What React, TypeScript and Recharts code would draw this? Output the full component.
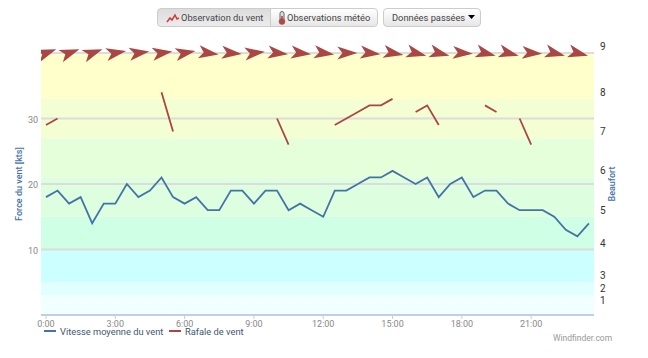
import { ComposedChart, Line, XAxis, YAxis, ReferenceArea, ReferenceLine, Legend, Label } from 'recharts';

document.body.style.margin = '0';

// half-hourly observations, 0:00 to 23:30
const HOURS = [
  0, 0.5, 1, 1.5, 2, 2.5, 3, 3.5, 4, 4.5, 5, 5.5, 6, 6.5, 7, 7.5, 8, 8.5, 9, 9.5, 10, 10.5, 11, 11.5,
  12, 12.5, 13, 13.5, 14, 14.5, 15, 15.5, 16, 16.5, 17, 17.5, 18, 18.5, 19, 19.5, 20, 20.5, 21, 21.5, 22, 22.5, 23, 23.5,
];
const MEAN_WIND = [
  18, 19, 17, 18, 14, 17, 17, 20, 18, 19, 21, 18, 17, 18, 16, 16, 19, 19, 17, 19, 19, 16, 17, 16,
  15, 19, 19, 20, 21, 21, 22, 21, 20, 21, 18, 20, 21, 18, 19, 19, 17, 16, 16, 16, 15, 13, 12, 14,
];
const GUSTS = [
  29, 30, null, null, null, null, null, null, null, null, 34, 28, null, null, null, null, null, null, null, null, 30, 26, null, null,
  null, 29, 30, 31, 32, 32, 33, null, 31, 32, 29, null, null, null, 32, 31, null, 30, 26, null, null, null, null, null,
];
// wind direction arrows, one per hour (degrees off pointing right)
const ARROW_ANGLES = [
  -20, -20, -20, -10, -8, -8, -10, 8, 5, -6, 6, 6, 8, 0, 6, 10, 14, 14, 4, 14, 14, 4, 14, 14,
];
const ARROW_LEVEL = 40;

const X_TICKS = [0, 3, 6, 9, 12, 15, 18, 21];
const Y_TICKS = [10, 20, 30];
const GRID_LINES = [10, 20, 30, 40];

// Beaufort scale: upper edge of each band in knots
const BEAUFORT_EDGES = [1.2, 3, 5, 10, 15, 21, 27, 33, 40];
const BEAUFORT_LABELS = ['1', '2', '3', '4', '5', '6', '7', '8', '9'];
const BAND_STARTS = [0, 3, 5, 10, 15, 21, 27, 33];
const BAND_ENDS = [3, 5, 10, 15, 21, 27, 33, 40];
const BAND_COLORS = ['#f0ffff', '#e0ffff', '#ccffff', '#cfffe5', '#ddffe0', '#e6ffdb', '#f3ffd3', '#ffffcc'];

const BLUE = '#4572a7';
const RED = '#aa4643';

const chartData = HOURS.map((h, i) => ({
  hour: h,
  mean: MEAN_WIND[i],
  gust: GUSTS[i],
  angle: i % 2 === 0 ? ARROW_ANGLES[i / 2] : null,
  arrow: i % 2 === 0 ? ARROW_LEVEL : null,
}));

function ArrowDot(props: any) {
  const { cx, cy, payload } = props;
  if (payload.arrow == null || cy == null) return <g key={props.key} />;
  return (
    <path
      key={props.key}
      d="M11,0 L-9,-6.5 L-4,0 L-9,6.5 Z"
      fill={RED}
      transform={`translate(${cx},${cy}) rotate(${payload.angle})`}
    />
  );
}

function BeaufortTick(props: any) {
  const { x, y, index } = props;
  return (
    <text x={x - 7} y={y - 6} dy={3} fontSize={10} fill="#333" fontFamily="Roboto">
      {BEAUFORT_LABELS[index]}
    </text>
  );
}

function LegendContent() {
  const items = [
    { name: 'Vitesse moyenne du vent', color: BLUE, width: 125 },
    { name: 'Rafale de vent', color: RED, width: 90 },
  ];
  return (
    <div style={{ display: 'flex', fontFamily: 'Roboto', fontSize: 9.3, lineHeight: '11px', height: 14, color: '#3e576f', whiteSpace: 'nowrap' }}>
      {items.map((it) => (
        <div key={it.name} style={{ display: 'flex', alignItems: 'center', width: it.width, height: 10 }}>
          <span style={{ width: 12, height: 2, background: it.color, marginRight: 4, display: 'inline-block' }} />
          {it.name}
        </div>
      ))}
    </div>
  );
}

const btn: React.CSSProperties = {
  position: 'absolute',
  top: 8,
  height: 19,
  boxSizing: 'border-box',
  border: '1px solid #ccc',
  background: 'linear-gradient(#fff, #e6e6e6)',
  fontFamily: 'Roboto',
  fontSize: 9.3,
  color: '#444',
  display: 'flex',
  alignItems: 'center',
  whiteSpace: 'nowrap',
};

export default function App() {
  return (
    <div style={{ position: 'relative', width: 648, height: 358, background: '#fff', overflow: 'hidden' }}>
      <ComposedChart
        width={648}
        height={358}
        data={chartData}
        margin={{ top: 53, right: 0, bottom: 0, left: 0 }}
      >
        <XAxis
          dataKey="hour"
          type="number"
          domain={[-0.216, 23.72]}
          ticks={X_TICKS}
          tickFormatter={(h: number) => `${h}:00`}
          height={29}
          tick={{ fontSize: 9, fill: '#888', fontFamily: 'Roboto' }}
          tickSize={4}
          tickMargin={2}
          tickLine={{ stroke: '#c0d0e0' }}
          axisLine={{ stroke: '#c0d0e0', strokeWidth: 2 }}
          allowDataOverflow
        />
        <YAxis
          yAxisId="kts"
          width={41}
          domain={[0, 40]}
          ticks={Y_TICKS}
          tick={{ fontSize: 9, fill: '#888', fontFamily: 'Roboto', dy: 1 }}
          tickLine={false}
          axisLine={false}
          tickSize={3}
          tickMargin={0}
        >
          <Label
            value="Force du vent [kts]"
            angle={-90}
            position="insideLeft"
            offset={19}
            style={{ fontSize: 9, fill: BLUE, fontFamily: 'Roboto', fontWeight: 500, textAnchor: 'middle' }}
          />
        </YAxis>
        <YAxis
          yAxisId="beaufort"
          orientation="right"
          width={54}
          domain={[0, 40]}
          ticks={BEAUFORT_EDGES}
          interval={0}
          tick={<BeaufortTick />}
          tickLine={false}
          axisLine={false}
          tickMargin={7}
        >
          <Label
            value="Beaufort"
            angle={-90}
            position="insideRight"
            offset={36}
            style={{ fontSize: 9, fill: BLUE, fontFamily: 'Roboto', fontWeight: 500, textAnchor: 'middle' }}
          />
        </YAxis>

        {BAND_COLORS.map((c, i) => (
          <ReferenceArea
            key={c}
            yAxisId="kts"
            y1={BAND_STARTS[i]}
            y2={BAND_ENDS[i]}
            fill={c}
            fillOpacity={1}
            stroke="none"
          />
        ))}
        {GRID_LINES.map((v) => (
          <ReferenceLine key={v} yAxisId="kts" y={v} stroke="#dcdcdc" strokeWidth={2} />
        ))}

        <Line
          yAxisId="kts"
          dataKey="mean"
          name="Vitesse moyenne du vent"
          stroke={BLUE}
          strokeWidth={1.8}
          dot={false}
          isAnimationActive={false}
        />
        <Line
          yAxisId="kts"
          dataKey="gust"
          name="Rafale de vent"
          stroke={RED}
          strokeWidth={1.8}
          dot={false}
          isAnimationActive={false}
        />
        <Line
          yAxisId="beaufort"
          dataKey="arrow"
          stroke="none"
          dot={ArrowDot}
          legendType="none"
          isAnimationActive={false}
        />
        <Legend
          content={<LegendContent />}
          verticalAlign="bottom"
          align="left"
          height={14}
          wrapperStyle={{ left: 44, width: 260, bottom: 18 }}
        />
      </ComposedChart>

      <div style={{ ...btn, left: 157, width: 114, background: 'linear-gradient(#dcdcdc, #ececec)', borderRadius: '4px 0 0 4px', paddingLeft: 8 }}>
        <svg width="14" height="10" style={{ marginRight: 1 }}>
          <path d="M1,9 L4,5 L6,7 L9,2 L11,6 L13,5" fill="none" stroke="#d23b3b" strokeWidth="1.5" />
        </svg>
        Observation du vent
      </div>
      <div style={{ ...btn, left: 270, width: 108, borderRadius: '0 4px 4px 0', paddingLeft: 7 }}>
        <svg width="8" height="14" style={{ marginRight: 1 }}>
          <rect x="2" y="0.5" width="4" height="9" rx="2" fill="#ddd" stroke="#666" />
          <circle cx="4" cy="10.5" r="3" fill="#b5493f" stroke="#666" strokeWidth="0.5" />
          <rect x="3.2" y="5" width="1.6" height="5" fill="#b5493f" />
        </svg>
        Observations météo
      </div>
      <div style={{ ...btn, left: 383, width: 98, borderRadius: 4, paddingLeft: 8 }}>
        Données passées
        <svg width="8" height="5" style={{ marginLeft: 3 }}>
          <path d="M0,0 L7,0 L3.5,4 Z" fill="#000" />
        </svg>
      </div>
      <div style={{ position: 'absolute', left: 553, top: 333, fontFamily: 'Roboto', fontSize: 8.5, color: '#999' }}>
        Windfinder.com
      </div>
    </div>
  );
}
